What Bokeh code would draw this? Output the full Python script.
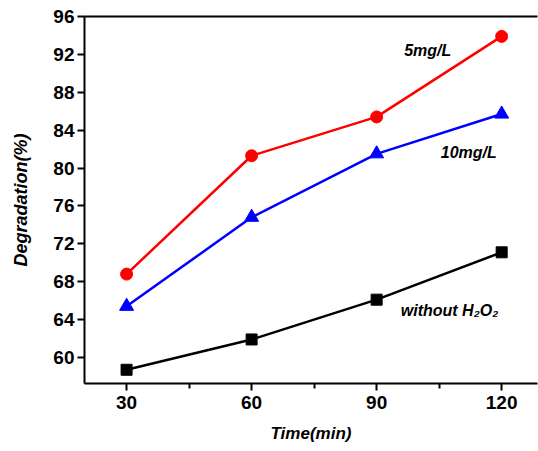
from bokeh.plotting import figure
from bokeh.models import LinearAxis, FixedTicker, Range1d
from bokeh.core.properties import value
from bokeh.embed import file_html
from bokeh.resources import INLINE

time_min = [30, 60, 90, 120]
deg_5mgL = [68.8, 81.3, 85.4, 93.9]
deg_10mgL = [65.4, 74.8, 81.5, 85.7]
deg_without = [58.7, 61.9, 66.1, 71.1]
x_ticks = [30, 60, 90, 120]
x_minor = [45, 75, 105]
y_ticks = [60, 64, 68, 72, 76, 80, 84, 88, 92, 96]

FONT = "Liberation Sans"

p = figure(width=538, height=451, output_backend="svg", toolbar_location=None,
           x_range=Range1d(19.9, 128.6), y_range=Range1d(57.25, 96),
           min_border_left=84, min_border_top=16, min_border_bottom=68, min_border_right=1)
p.outline_line_color = None
p.grid.visible = False
p.background_fill_color = "white"

for ax in (p.xaxis[0], p.yaxis[0]):
    ax.axis_line_width = 2
    ax.axis_line_color = "black"
    ax.major_tick_line_width = 2
    ax.major_tick_line_color = "black"
    ax.major_tick_in = 0
    ax.major_tick_out = 7
    ax.minor_tick_line_width = 2
    ax.minor_tick_line_color = "black"
    ax.minor_tick_in = 0
    ax.minor_tick_out = 5
    ax.major_label_text_font = FONT
    ax.major_label_text_font_style = "bold"
    ax.major_label_text_font_size = "19px"
    ax.major_label_text_color = "black"
    ax.axis_label_text_font = FONT
    ax.axis_label_text_font_style = "bold italic"
    ax.axis_label_text_color = "black"

p.xaxis[0].axis_label_text_font_size = "17px"
p.yaxis[0].axis_label_text_font_size = "18px"
p.xaxis[0].ticker = FixedTicker(ticks=x_ticks, minor_ticks=x_minor)
p.yaxis[0].ticker = FixedTicker(ticks=y_ticks, minor_ticks=[])
p.xaxis[0].axis_label = "Time(min)"
p.yaxis[0].axis_label = "Degradation(%)"
p.xaxis[0].major_label_standoff = 5
p.xaxis[0].axis_label_standoff = 12
p.yaxis[0].major_label_standoff = 3
p.yaxis[0].axis_label_standoff = 19

top = LinearAxis(ticker=FixedTicker(ticks=[]), axis_line_width=2,
                 major_tick_line_color=None, minor_tick_line_color=None,
                 major_label_text_font_size="0px")
p.add_layout(top, "above")

p.line(time_min, deg_5mgL, line_color="red", line_width=2.5)
p.scatter(time_min, deg_5mgL, marker="circle", size=12, fill_color="red", line_color="red")
p.line(time_min, deg_10mgL, line_color="blue", line_width=2.5)
p.scatter(time_min, deg_10mgL, marker="triangle", size=14, fill_color="blue", line_color="blue")
p.line(time_min, deg_without, line_color="black", line_width=2.5)
p.scatter(time_min, deg_without, marker="square", size=11, fill_color="black", line_color="black")

labels_x = [96.6, 105.4, 95.8]
labels_y = [92.4, 81.6, 65.0]
labels_t = ["5mg/L", "10mg/L", "without H₂O₂"]
p.text(labels_x, labels_y, text=labels_t, text_font=value(FONT), text_font_style="bold italic",
       text_font_size="16px", text_color="black", text_align="left", text_baseline="middle")

open("out.html", "w").write(file_html(p, INLINE))
